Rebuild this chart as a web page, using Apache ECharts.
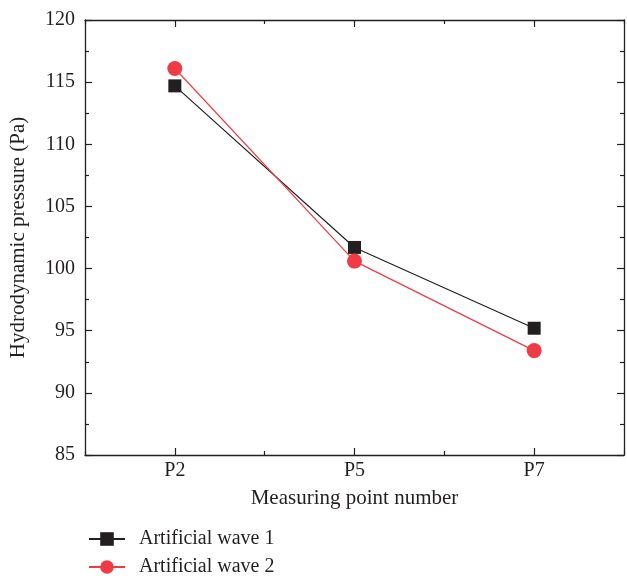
<!DOCTYPE html>
<html>
<head>
<meta charset="utf-8">
<script src="https://cdn.jsdelivr.net/npm/echarts@6/dist/echarts.min.js"></script>
<style>
  html, body { margin: 0; padding: 0; background: #fff; }
  #chart { width: 627px; height: 576px; }
</style>
</head>
<body>
<div id="chart"></div>
<script>
  // chart values
  const categories = ['P2', 'P5', 'P7']
  const wave1 = [114.7, 101.7, 95.2]
  const wave2 = [116.1, 100.6, 93.4]
  const seriesNames = ['Artificial wave 1', 'Artificial wave 2']

  const ink = '#231f20'
  const red = '#ef3b43'
  const font = '"Liberation Serif", "Times New Roman", serif'

  const chart = echarts.init(document.getElementById('chart'))

  // category axis helper: major ticks at the labels, minor ones on the boundaries
  function catAxis(pos, major) {
    return {
      type: 'category',
      position: pos,
      data: categories,
      boundaryGap: true,
      axisLine: { show: major, lineStyle: { color: ink, width: 1.3 } },
      axisTick: { show: true, inside: true, alignWithLabel: major, length: major ? 7 : 4, lineStyle: { color: ink, width: 1.2 } },
      axisLabel: { show: major && pos === 'bottom', color: ink, fontFamily: font, fontSize: 20, margin: 6 },
      splitLine: { show: false },
      name: major && pos === 'bottom' ? 'Measuring point number' : '',
      nameLocation: 'middle',
      nameGap: 33,
      nameTextStyle: { color: ink, fontFamily: font, fontSize: 21 }
    }
  }

  function valAxis(pos) {
    return {
      type: 'value',
      position: pos,
      min: 85,
      max: 120,
      interval: 5,
      axisLine: { show: true, lineStyle: { color: ink, width: 1.3 } },
      axisTick: { show: true, inside: true, length: 7, lineStyle: { color: ink, width: 1.2 } },
      minorTick: { show: true, splitNumber: 2, length: 4, lineStyle: { color: ink, width: 1.2 } },
      axisLabel: { show: pos === 'left', color: ink, fontFamily: font, fontSize: 20, margin: 10 },
      splitLine: { show: false },
      name: pos === 'left' ? 'Hydrodynamic pressure (Pa)' : '',
      nameLocation: 'middle',
      nameGap: 56,
      nameTextStyle: { color: ink, fontFamily: font, fontSize: 21 }
    }
  }

  const option = {
    animation: false,
    backgroundColor: '#fff',
    grid: { left: 84, right: 3, top: 20, bottom: 121 },
    legend: {
      orient: 'vertical',
      left: 83,
      top: 524,
      height: 52,
      itemWidth: 36,
      itemHeight: 17,
      itemGap: 8,
      data: seriesNames,
      textStyle: { color: ink, fontFamily: font, fontSize: 20, lineHeight: 20, padding: [0, 0, 0, 9] }
    },
    xAxis: [catAxis('bottom', true), catAxis('bottom', false), catAxis('top', true), catAxis('top', false)],
    yAxis: [valAxis('left'), valAxis('right')],
    series: [
      {
        name: seriesNames[0],
        type: 'line',
        data: wave1,
        symbol: 'rect',
        symbolSize: 13,
        itemStyle: { color: ink },
        lineStyle: { color: ink, width: 1.2 }
      },
      {
        name: seriesNames[1],
        type: 'line',
        data: wave2,
        symbol: 'circle',
        symbolSize: 15,
        itemStyle: { color: red },
        lineStyle: { color: red, width: 1.2 }
      }
    ]
  }

  chart.setOption(option)
</script>
</body>
</html>
